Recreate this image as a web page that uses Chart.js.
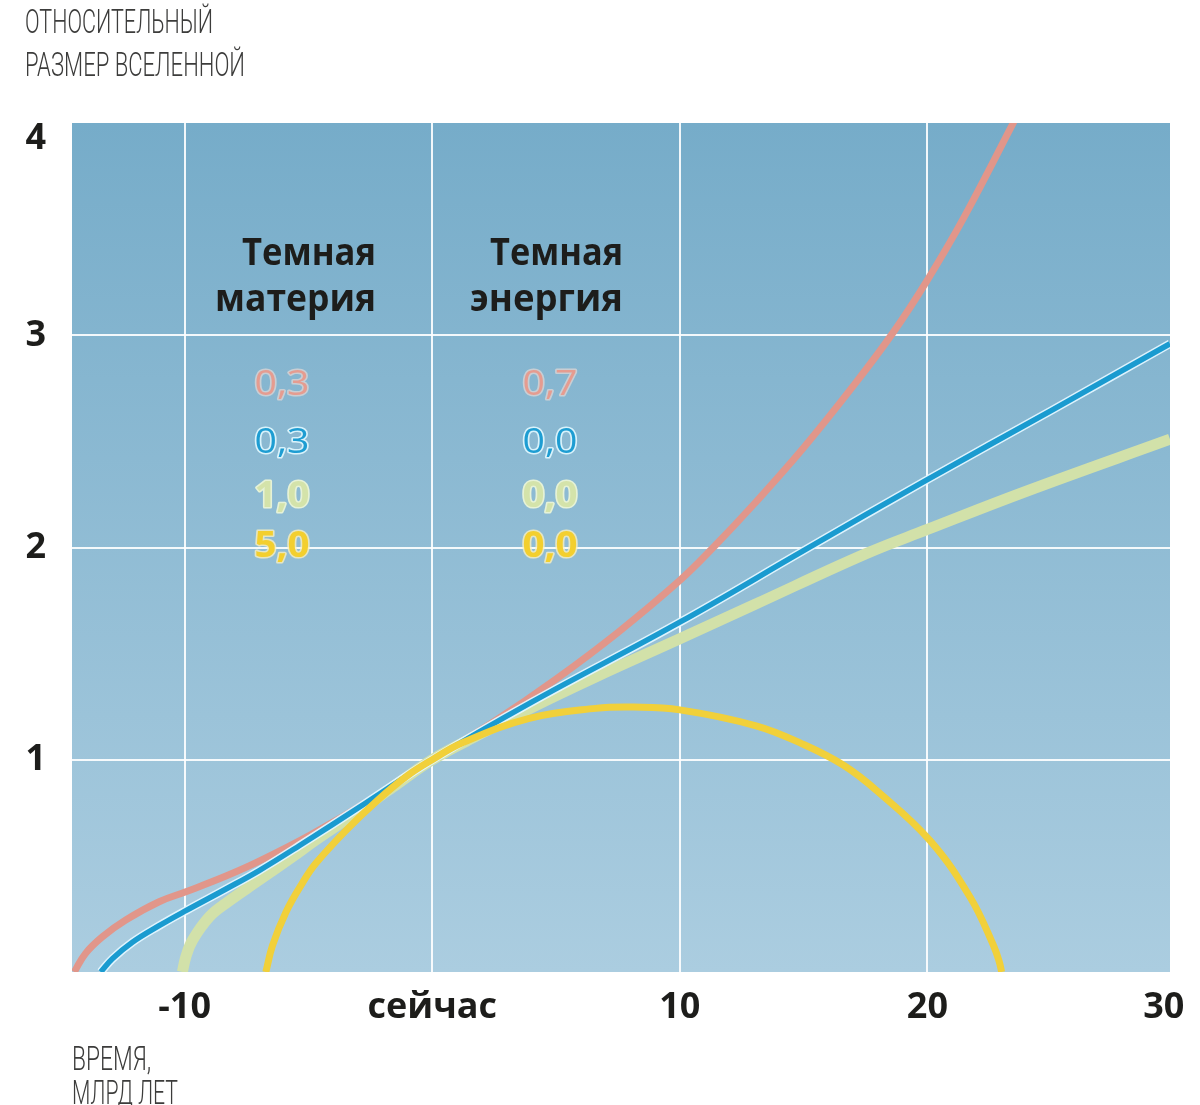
<!DOCTYPE html>
<html lang="ru">
<head>
<meta charset="utf-8">
<title>Относительный размер Вселенной</title>
<script src="https://cdn.jsdelivr.net/npm/chart.js@4.4.1/dist/chart.umd.min.js"></script>
<style>
  html, body { margin: 0; padding: 0; background: #fff; }
  #wrap { width: 1200px; height: 1105px; }
</style>
</head>
<body>
<div id="wrap"><canvas id="universeChart" width="1200" height="1105"></canvas></div>
<script>
// time in billion years from now, size relative to today
var pinkTime = [-14.46, -14.0, -13.32, -12.38, -11.03, -9.95, -8.33, -6.99, -4.84, -2.5, 0, 2.5, 5, 7.5, 10, 11.35, 13, 15, 17, 18.6, 20, 21.5, 23.6];
var pinkSize = [0, 0.088, 0.166, 0.245, 0.331, 0.378, 0.452, 0.522, 0.651, 0.81, 1.0, 1.18, 1.38, 1.6, 1.845, 2.0, 2.205, 2.47, 2.76, 3.01, 3.26, 3.56, 4.03];

var blueTime = [-13.39, -12.92, -12.11, -11.03, -9.95, -8.33, -6.99, -5.37, -2.7, 0, 4, 10, 15, 20, 25, 29.8];
var blueSize = [0, 0.062, 0.14, 0.218, 0.289, 0.391, 0.478, 0.595, 0.795, 1.0, 1.27, 1.648, 1.985, 2.32, 2.645, 2.96];

var greenTime = [-10.09, -9.95, -9.68, -9.0, -8.33, -6.99, -5.64, -4.7, -2.95, -1.6, 0, 2, 4, 6.6, 10, 13, 17.5, 20, 24, 29.8];
var greenSize = [0, 0.072, 0.15, 0.26, 0.324, 0.433, 0.543, 0.622, 0.76, 0.87, 1.0, 1.125, 1.245, 1.39, 1.57, 1.73, 1.97, 2.085, 2.265, 2.51];

var yellowTime = [-6.72, -6.45, -5.91, -5.24, -4.7, -3.5, -2.2, -1, 0, 1.22, 3.92, 6.6, 8.14, 10, 13.08, 14.94, 16.6, 18.0, 20.1, 21.74, 22.67, 22.9, 23.0];
var yellowSize = [0, 0.125, 0.282, 0.42, 0.512, 0.665, 0.81, 0.925, 1.0, 1.08, 1.195, 1.242, 1.248, 1.235, 1.16, 1.075, 0.975, 0.85, 0.62, 0.35, 0.125, 0.05, 0];

// tick positions on the time axis; the last label sits at the plot's right edge
var xTicks = [-10, 0, 10, 20, 29.55];
var xTickLabels = ['-10', 'сейчас', '10', '20', '30'];
var yTicks = [0, 1, 2, 3, 4];
var yTickLabels = ['', '1', '2', '3', '4'];

var columnHeads = [['Темная', 'материя'], ['Темная', 'энергия']];
var matterValues = ['0,3', '0,3', '1,0', '5,0'];
var energyValues = ['0,7', '0,0', '0,0', '0,0'];

function toPoints(xs, ys) {
	return xs.map(function (x, i) { return { x: x, y: ys[i] }; });
}

// draws text squeezed horizontally to a given width
function fitText(ctx, text, x, y, w, align, halo) {
	var m = ctx.measureText(text).width;
	ctx.save();
	ctx.translate(x, y);
	ctx.scale(w / m, 1);
	ctx.textAlign = align;
	if (halo) {
		ctx.strokeStyle = halo.color;
		ctx.lineWidth = halo.width;
		ctx.lineJoin = 'round';
		ctx.strokeText(text, 0, 0);
	}
	ctx.fillText(text, 0, 0);
	ctx.restore();
}

var backdrop = {
	id: 'backdrop',
	beforeDraw: function (chart) {
		var ctx = chart.ctx, a = chart.chartArea;
		ctx.save();
		ctx.fillStyle = '#ffffff';
		ctx.fillRect(0, 0, chart.width, chart.height);
		var g = ctx.createLinearGradient(0, a.top, 0, a.bottom);
		g.addColorStop(0, '#76acc9');
		g.addColorStop(1, '#abcde0');
		ctx.fillStyle = g;
		ctx.fillRect(a.left, a.top, a.right - a.left, a.bottom - a.top);
		ctx.restore();
	}
};

var captions = {
	id: 'captions',
	afterDraw: function (chart) {
		var ctx = chart.ctx;
		ctx.save();
		ctx.textBaseline = 'alphabetic';

		// axis titles
		ctx.fillStyle = '#3c3c3b';
		ctx.font = "300 34px Roboto";
		fitText(ctx, 'ОТНОСИТЕЛЬНЫЙ', 25, 33, 188, 'left');
		fitText(ctx, 'РАЗМЕР ВСЕЛЕННОЙ', 25, 76, 220, 'left');
		fitText(ctx, 'ВРЕМЯ,', 72, 1070, 79, 'left');
		fitText(ctx, 'МЛРД ЛЕТ', 72, 1104, 106, 'left');

		// column heads
		ctx.fillStyle = '#1d1d1b';
		ctx.font = "bold 38px 'Open Sans'";
		fitText(ctx, columnHeads[0][0], 376, 265, 134, 'right');
		fitText(ctx, columnHeads[0][1], 376, 311, 161, 'right');
		fitText(ctx, columnHeads[1][0], 623, 265, 133, 'right');
		fitText(ctx, columnHeads[1][1], 623, 311, 153, 'right');

		// parameter values, one row per curve
		var rows = [
			{ y: 395, fill: '#e59c90', halo: 'rgba(255,225,215,0.55)', weight: '' },
			{ y: 453, fill: '#1e9dd2', halo: 'rgba(225,248,255,0.9)', weight: '' },
			{ y: 507, fill: '#d4e3aa', halo: 'rgba(240,248,215,0.9)', weight: 'bold ' },
			{ y: 557, fill: '#f3cf2f', halo: 'rgba(250,240,190,0.8)', weight: 'bold ' }
		];
		rows.forEach(function (r, i) {
			ctx.font = r.weight + "35px 'Open Sans'";
			ctx.fillStyle = r.fill;
			fitText(ctx, matterValues[i], 282, r.y, 55, 'center', { color: r.halo, width: 3 });
			fitText(ctx, energyValues[i], 550, r.y, 55, 'center', { color: r.halo, width: 3 });
		});
		ctx.restore();
	}
};

var tickFont = { family: "'Open Sans'", size: 36, weight: 'bold' };
var gridWhite = 'rgba(255,255,255,0.9)';

function line(xs, ys, color, width) {
	return {
		data: toPoints(xs, ys),
		showLine: true,
		borderColor: color,
		borderWidth: width,
		pointRadius: 0,
		tension: 0.4,
		clip: 0
	};
}

new Chart(document.getElementById('universeChart'), {
	type: 'scatter',
	data: {
		datasets: [
			line(yellowTime, yellowSize, '#f1d03a', 7),
			line(blueTime, blueSize, '#1a9bd0', 5.5),
			line(blueTime, blueSize, 'rgba(225,246,255,0.95)', 8.5),
			line(greenTime, greenSize, '#d2e1a9', 11),
			line(pinkTime, pinkSize, '#e1968a', 7)
		]
	},
	options: {
		responsive: false,
		animation: false,
		layout: { padding: { top: 123, right: 30, left: 0, bottom: 0 } },
		plugins: { legend: { display: false }, tooltip: { enabled: false } },
		scales: {
			x: {
				type: 'linear',
				min: -14.55,
				max: 29.8,
				afterBuildTicks: function (s) { s.ticks = xTicks.map(function (v) { return { value: v }; }); },
				afterFit: function (s) { s.height = 133; s.paddingLeft = 0; s.paddingRight = 0; },
				border: { display: false },
				grid: {
					drawTicks: false,
					lineWidth: 2,
					color: function (c) { return c.tick && c.tick.value === xTicks[4] ? 'rgba(0,0,0,0)' : gridWhite; }
				},
				ticks: {
					padding: 14,
					autoSkip: false,
					maxRotation: 0,
					color: '#1d1d1b',
					font: tickFont,
					callback: function (v) { var i = xTicks.indexOf(v); return i < 0 ? '' : xTickLabels[i]; }
				}
			},
			y: {
				type: 'linear',
				min: 0,
				max: 4,
				afterBuildTicks: function (s) { s.ticks = yTicks.map(function (v) { return { value: v }; }); },
				afterFit: function (s) { s.width = 72; s.paddingTop = 0; s.paddingBottom = 0; },
				border: { display: false },
				grid: {
					drawTicks: false,
					lineWidth: 2,
					color: function (c) { return c.tick && (c.tick.value === 0 || c.tick.value === 4) ? 'rgba(0,0,0,0)' : gridWhite; }
				},
				ticks: {
					padding: 26,
					color: '#1d1d1b',
					font: function (c) {
						return c.tick && c.tick.value === 4 ? { family: "'Open Sans'", size: 36, weight: 'bold', lineHeight: 0.9 } : tickFont;
					},
					callback: function (v) {
						var i = yTicks.indexOf(v);
						if (i < 0) return '';
						// the top label sits a little below its line in the original
						return v === 4 ? ['', yTickLabels[i]] : yTickLabels[i];
					}
				}
			}
		}
	},
	plugins: [backdrop, captions]
});
</script>
</body>
</html>
